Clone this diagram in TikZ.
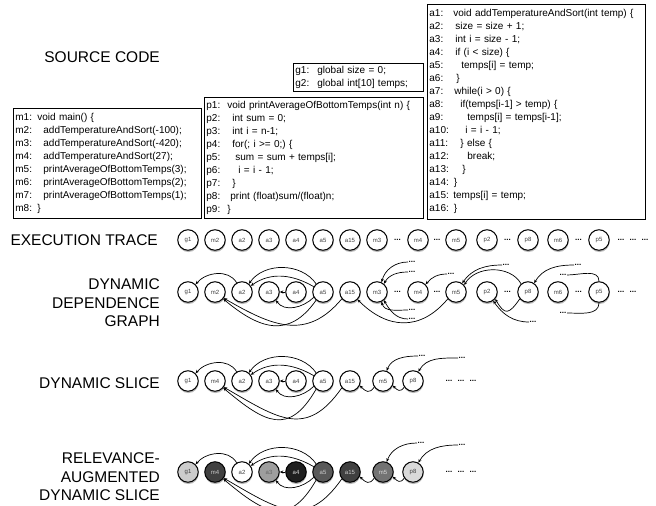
\documentclass[tikz,border=0pt]{standalone}
\usepackage{fontspec}
\setmainfont{Liberation Sans}
\usepackage{tikz}
\usetikzlibrary{positioning, shadows, arrows.meta}

\newlength{\lblw}
\newcommand{\codeln}[3]{\makebox[\lblw][l]{#1}\hspace*{#2pt}#3}

\tikzset{
  stmt/.style={circle, draw, line width=1pt, fill=white, minimum size=20.5pt, inner sep=0pt,
    font=\fontsize{6}{6}\selectfont, text=black!75,
    drop shadow={shadow xshift=0.4pt, shadow yshift=-1.8pt, opacity=0.55}},
  more/.style={inner sep=0.5pt, text height=1.2pt, text depth=0pt, font=\bfseries\fontsize{8}{8}\selectfont},
  heading/.style={anchor=east, inner sep=0pt, align=right, font=\fontsize{15.5}{18.5}\selectfont},
  codebox/.style={draw, line width=0.8pt, anchor=north west, align=left, inner xsep=2pt, inner ysep=0pt,
    font=\fontsize{10}{13}\selectfont},
  dep/.style={-{Stealth[length=3.5pt, width=3pt]}, line width=0.7pt},
  tail/.style={line width=0.7pt},
}

\begin{document}
\begin{tikzpicture}[x=1pt, y=1pt, node distance=27pt, on grid]
    \useasboundingbox (0,0) rectangle (656,-506);

    % headings
    \node[heading] (src)   at (160,-57)  {SOURCE CODE};
    \node[heading] (trace) at (158,-240) {EXECUTION TRACE};
    \node[heading] (ddg)   at (160,-303) {DYNAMIC\\DEPENDENCE\\GRAPH};
    \node[heading] (slice) at (160,-383) {DYNAMIC SLICE};
    \node[heading] (rads)  at (160,-477) {RELEVANCE-\\AUGMENTED\\DYNAMIC SLICE};

    % source code
    \node[codebox, text width=184pt, minimum height=110pt] (mainfn) at (13,-108) {\setlength{\lblw}{22pt}%
        \codeln{m1:}{0}{void main() \{}\\
        \codeln{m2:}{6}{addTemperatureAndSort(-100);}\\
        \codeln{m3:}{6}{addTemperatureAndSort(-420);}\\
        \codeln{m4:}{6}{addTemperatureAndSort(27);}\\
        \codeln{m5:}{6}{printAverageOfBottomTemps(3);}\\
        \codeln{m6:}{6}{printAverageOfBottomTemps(2);}\\
        \codeln{m7:}{6}{printAverageOfBottomTemps(1);}\\
        \codeln{m8:}{0}{\}}};
    \node[codebox, text width=215pt, minimum height=121pt] (printfn) at (204,-97) {\setlength{\lblw}{21pt}%
        \codeln{p1:}{0}{void printAverageOfBottomTemps(int n) \{}\\
        \codeln{p2:}{5}{int sum = 0;}\\
        \codeln{p3:}{5}{int i = n-1;}\\
        \codeln{p4:}{5}{for(; i >= 0;) \{}\\
        \codeln{p5:}{8}{sum = sum + temps[i];}\\
        \codeln{p6:}{11}{i = i - 1;}\\
        \codeln{p7:}{5}{\}}\\
        \codeln{p8:}{3}{print (float)sum/(float)n;}\\
        \codeln{p9:}{0}{\}}};
    \node[codebox, text width=126pt, minimum height=28pt] (globals) at (293,-63) {\setlength{\lblw}{22pt}%
        \codeln{g1:}{0}{global size = 0;}\\
        \codeln{g2:}{0}{global int[10] temps;}};
    \node[codebox, text width=214pt, minimum height=215pt] (addfn) at (427,-4) {\setlength{\lblw}{24pt}%
        \codeln{a1:}{0}{void addTemperatureAndSort(int temp) \{}\\
        \codeln{a2:}{2}{size = size + 1;}\\
        \codeln{a3:}{2}{int i = size - 1;}\\
        \codeln{a4:}{2}{if (i < size) \{}\\
        \codeln{a5:}{8}{temps[i] = temp;}\\
        \codeln{a6:}{3}{\}}\\
        \codeln{a7:}{1}{while(i > 0) \{}\\
        \codeln{a8:}{7}{if(temps[i-1] > temp) \{}\\
        \codeln{a9:}{14}{temps[i] = temps[i-1];}\\
        \codeln{a10:}{12}{i = i - 1;}\\
        \codeln{a11:}{7}{\} else \{}\\
        \codeln{a12:}{14}{break;}\\
        \codeln{a13:}{9}{\}}\\
        a14: \}\\
        \codeln{a15:}{0}{temps[i] = temp;}\\
        a16: \}};

    % execution trace
    \node[stmt] (tg1) at (188,-240) {g1};
    \node[stmt] (tm2) [right=of tg1] {m2};
    \node[stmt] (ta2) [right=of tm2] {a2};
    \node[stmt] (ta3) [right=of ta2] {a3};
    \node[stmt] (ta4) [right=of ta3] {a4};
    \node[stmt] (ta5) [right=of ta4] {a5};
    \node[stmt] (ta15) [right=of ta5] {a15};
    \node[stmt] (tm3) [right=of ta15] {m3};
    \node[more] (tx1) [right=20.5pt of tm3] {...};
    \node[stmt] (tm4) [right=20.5pt of tx1] {m4};
    \node[more] (tx2) [right=19pt of tm4] {...};
    \node[stmt] (tm5) [right=19pt of tx2] {m5};
    \node[stmt] (tp2) [right=31pt of tm5] {p2};
    \node[more] (tx3) [right=20.5pt of tp2] {...};
    \node[stmt] (tp8) [right=20.5pt of tx3] {p8};
    \node[stmt] (tm6) [right=30pt of tp8] {m6};
    \node[more] (tx4) [right=20.5pt of tm6] {...};
    \node[stmt] (tp5) [right=20.5pt of tx4] {p5};
    \node[more] (tx5) [right=22pt of tp5] {...};
    \node[more] (tx6) [right=12pt of tx5] {...};
    \node[more] (tx7) [right=12pt of tx6] {...};

    % dynamic dependence graph
    \node[stmt] (dg1) at (188,-292) {g1};
    \node[stmt] (dm2) [right=of dg1] {m2};
    \node[stmt] (da2) [right=of dm2] {a2};
    \node[stmt] (da3) [right=of da2] {a3};
    \node[stmt] (da4) [right=of da3] {a4};
    \node[stmt] (da5) [right=of da4] {a5};
    \node[stmt] (da15) [right=of da5] {a15};
    \node[stmt] (dm3) [right=of da15] {m3};
    \node[more] (dx1) [right=20.5pt of dm3] {...};
    \node[stmt] (dm4) [right=20.5pt of dx1] {m4};
    \node[more] (dx2) [right=19pt of dm4] {...};
    \node[stmt] (dm5) [right=19pt of dx2] {m5};
    \node[stmt] (dp2) [right=31pt of dm5] {p2};
    \node[more] (dx3) [right=20.5pt of dp2] {...};
    \node[stmt] (dp8) [right=20.5pt of dx3] {p8};
    \node[stmt] (dm6) [right=30pt of dp8] {m6};
    \node[more] (dx4) [right=20.5pt of dm6] {...};
    \node[stmt] (dp5) [right=20.5pt of dx4] {p5};
    \node[more] (dx5) [right=22pt of dp5] {...};
    \node[more] (dx6) [right=12pt of dx5] {...};
    %\node[more] (dx7) [right=12pt of dx6] {...};
    \node[more, anchor=west] (dy1) at (408,-262) {...};
    \node[more, anchor=west] (dy2) at (408,-272) {...};
    \node[more, anchor=west] (dy3) at (408,-310) {...};
    \node[more, anchor=west] (dy4) at (408,-319) {...};
    \node[more, anchor=west] (dy5) at (447,-274) {...};
    \node[more, anchor=west] (dy6) at (502,-265) {...};
    \node[more, anchor=west] (dy7) at (529,-322) {...};
    \node[more, anchor=west] (dy8) at (574,-265) {...};
    \node[more, anchor=east] (dy9) at (567,-275) {...};
    \node[more, anchor=east] (dy10) at (567,-313) {...};

    \path[dep]
    (da2.120) edge [out=120, in=50] (dg1.45)
    (da5.130) edge [out=125, in=55] (da2.50)
    (da5.150) edge [out=150, in=35] (da2.35)
    (da4) edge (da3)
    (da5.210) edge [out=225, in=-55] (da3.-50)
    (da5.230) edge [out=235, in=-40, looseness=1.3] (dm2.-40)
    (da15.220) edge [out=230, in=-30, looseness=1.2] (dm2.-35)
    (dm5.220) edge [out=230, in=-45, looseness=1.2] (da15.-45)
    (dy1.west) edge [out=180, in=75] (dm3.65)
    (dy2.west) edge [out=180, in=60] (dm3.50)
    (dy3.west) edge [out=180, in=-75] (dm3.-65)
    (dy4.west) edge [out=180, in=-60] (dm3.-50)
    (dy5.west) edge [out=180, in=50] (dm4.45)
    (dy6.west) edge [out=180, in=55] (dm5.55)
    (dp8.130) edge [out=120, in=60] (dm5.40)
    (dp8.220) edge [out=235, in=-60, looseness=2] (dp2.-40)
    (dy7.west) edge [out=180, in=-55] (dp2.-55)
    (dy8.west) edge [out=180, in=60] (dp8.55);
    \path[tail]
    (dp5.north) edge [out=90, in=0] (dy9.east)
    (dp5.south) edge [out=-90, in=0] (dy10.east);

    % dynamic slice
    \node[stmt] (sg1) at (188,-381) {g1};
    \node[stmt] (sm4) [right=of sg1] {m4};
    \node[stmt] (sa2) [right=of sm4] {a2};
    \node[stmt] (sa3) [right=of sa2] {a3};
    \node[stmt] (sa4) [right=of sa3] {a4};
    \node[stmt] (sa5) [right=of sa4] {a5};
    \node[stmt] (sa15) [right=of sa5] {a15};
    \node[stmt] (sm5) [right=33pt of sa15] {m5};
    \node[stmt] (sp8) [right=30pt of sm5] {p8};
    \node[more] (sx1) [right=36pt of sp8] {...};
    \node[more] (sx2) [right=12pt of sx1] {...};
    \node[more] (sx3) [right=12pt of sx2] {...};
    \node[more, anchor=west] (sy1) at (418,-356) {...};
    \node[more, anchor=west] (sy2) at (458,-358) {...};

    \path[dep]
    (sa2.120) edge [out=120, in=50] (sg1.45)
    (sa5.130) edge [out=125, in=55] (sa2.50)
    (sa5.150) edge [out=150, in=35] (sa2.35)
    (sa4) edge (sa3)
    (sa5.210) edge [out=225, in=-55] (sa3.-50)
    (sa5.230) edge [out=240, in=-40, looseness=1.5] (sm4.-40)
    (sa15.220) edge [out=235, in=-30, looseness=1.35] (sm4.-35)
    (sm5.215) edge [out=235, in=-45, looseness=1.5] (sa15.-25)
    (sp8.215) edge [out=235, in=-45, looseness=1.5] (sm5.-25)
    (sy1.west) edge [out=180, in=70] (sm5.70)
    (sy2.west) edge [out=180, in=60] (sp8.60);

    % relevance-augmented dynamic slice
    \node[stmt, fill=black!20] (rg1) at (188,-472) {g1};
    \node[stmt, fill=black!75, text=black!20] (rm4) [right=of rg1] {m4};
    \node[stmt] (ra2) [right=of rm4] {a2};
    \node[stmt, fill=black!38, text=black!60] (ra3) [right=of ra2] {a3};
    \node[stmt, fill=black!88, text=black!15] (ra4) [right=of ra3] {a4};
    \node[stmt, fill=black!65, text=black!20] (ra5) [right=of ra4] {a5};
    \node[stmt, fill=black!75, text=black!20] (ra15) [right=of ra5] {a15};
    \node[stmt, fill=black!55, text=black!15] (rm5) [right=33pt of ra15] {m5};
    \node[stmt, fill=black!15] (rp8) [right=30pt of rm5] {p8};
    \node[more] (rx1) [right=36pt of rp8] {...};
    \node[more] (rx2) [right=12pt of rx1] {...};
    \node[more] (rx3) [right=12pt of rx2] {...};
    \node[more, anchor=west] (ry1) at (417,-443) {...};
    \node[more, anchor=west] (ry2) at (458,-445) {...};

    \path[dep]
    (ra2.120) edge [out=120, in=50] (rg1.45)
    (ra5.130) edge [out=125, in=55] (ra2.50)
    (ra5.150) edge [out=150, in=35] (ra2.35)
    (ra4) edge (ra3)
    (ra5.210) edge [out=225, in=-55] (ra3.-50)
    (ra5.230) edge [out=240, in=-40, looseness=1.5] (rm4.-40)
    (ra15.220) edge [out=235, in=-30, looseness=1.35] (rm4.-35)
    (rm5.215) edge [out=235, in=-45, looseness=1.5] (ra15.-25)
    (rp8.215) edge [out=235, in=-45, looseness=1.5] (rm5.-25)
    (ry1.west) edge [out=180, in=70] (rm5.70)
    (ry2.west) edge [out=180, in=60] (rp8.60);
\end{tikzpicture}
\end{document}
